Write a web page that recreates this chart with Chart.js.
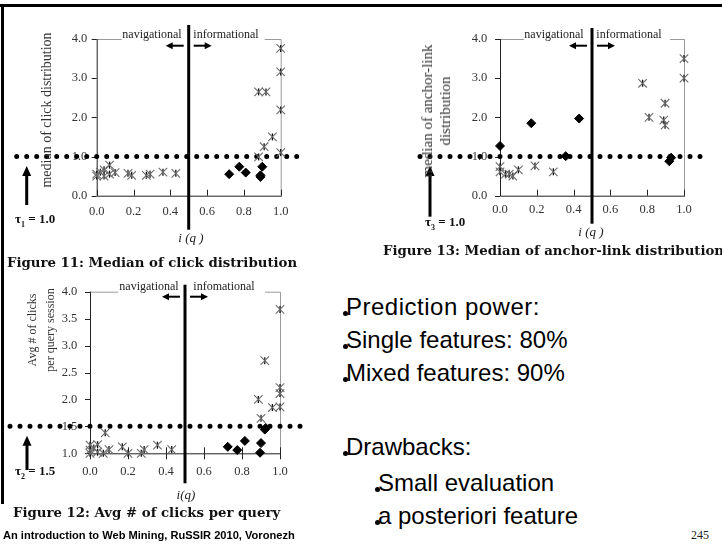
<!DOCTYPE html>
<html>
<head>
<meta charset="utf-8">
<script src="https://cdn.jsdelivr.net/npm/chart.js@4.4.1/dist/chart.umd.min.js"></script>
<style>
  body { margin:0; width:722px; height:547px; position:relative; overflow:hidden; background:#fff; font-family:"Liberation Serif", serif; }
  canvas { position:absolute; }
  .t { position:absolute; white-space:nowrap; transform:translate(-50%,-50%); color:#222; }
  .l { position:absolute; white-space:nowrap; transform:translateY(-50%); }
  .rot { transform:translate(-50%,-50%) rotate(-90deg); text-align:center; color:#333; }
  .lab { font-size:12px; color:#222; }
  .iq { font-style:italic; font-size:13px; }
  .tau { font-weight:bold; font-size:13px; color:#111; }
  .tau sub { font-size:8px; }
  .cap { font-family:"DejaVu Serif", serif; font-weight:bold; font-size:13.3px; color:#111; }
  .bul { position:absolute; font-family:"Liberation Sans", Arial, sans-serif; font-size:24px; line-height:24px; white-space:nowrap; color:#000; }
  .bul::before { content:""; position:absolute; left:-3.5px; top:16px; width:5px; height:5px; border-radius:50%; background:#000; }
</style>
</head>
<body>
<div style="position:absolute;left:0;top:4px;width:722px;height:3px;background:#000"></div>
<div style="position:absolute;left:1px;top:4px;width:3px;height:500px;background:#000"></div>

<canvas id="fig11" width="310" height="250" style="left:0;top:0"></canvas>
<canvas id="fig13" width="342" height="250" style="left:380px;top:0"></canvas>
<canvas id="fig12" width="310" height="260" style="left:0;top:250px"></canvas>

<!-- Figure 11 texts -->
<div class="t rot" style="left:47px;top:110px;font-size:14px">median of click distribution</div>
<div class="t lab" style="left:152px;top:34px">navigational</div>
<div class="t lab" style="left:226px;top:34px">informational</div>
<div class="t iq" style="left:191px;top:238px">i (q )</div>
<div class="l tau" style="left:15px;top:220px">τ<sub>1</sub> = 1.0</div>
<div class="l cap" style="left:7px;top:262px">Figure 11: Median of click distribution</div>

<!-- Figure 13 texts -->
<div class="t rot" style="left:436px;top:111px;font-size:15px;line-height:18px">median of anchor-link<br>distribution</div>
<div class="t lab" style="left:554px;top:34px">navigational</div>
<div class="t lab" style="left:629px;top:34px">informational</div>
<div class="t iq" style="left:591px;top:232px">i (q )</div>
<div class="l tau" style="left:425px;top:223px">τ<sub>3</sub> = 1.0</div>
<div class="l cap" style="left:383px;top:250px">Figure 13: Median of anchor-link distribution</div>

<!-- Figure 12 texts -->
<div class="t rot" style="left:41px;top:330px;font-size:12px;line-height:18px">Avg # of clicks<br>per query session</div>
<div class="t lab" style="left:149px;top:286px">navigational</div>
<div class="t lab" style="left:224px;top:286px">infomational</div>
<div class="t iq" style="left:186px;top:495px">i(q)</div>
<div class="l tau" style="left:15px;top:472px">τ<sub>2</sub> = 1.5</div>
<div class="l cap" style="left:13px;top:512px">Figure 12: Avg # of clicks per query</div>

<!-- slide text -->
<div class="bul" style="left:346px;top:295px;letter-spacing:0.5px">Prediction power:</div>
<div class="bul" style="left:346px;top:328px">Single features: 80%</div>
<div class="bul" style="left:346px;top:361px">Mixed features: 90%</div>
<div class="bul" style="left:346px;top:435px">Drawbacks:</div>
<div class="bul" style="left:378px;top:471px">Small evaluation</div>
<div class="bul" style="left:378px;top:504px">a posteriori feature</div>
<div class="l" style="left:3px;top:535px;font-family:'Liberation Sans',Arial,sans-serif;font-weight:bold;font-size:11.1px">An introduction to Web Mining, RuSSIR 2010, Voronezh</div>
<div class="t" style="left:700px;top:535px;font-size:12px">245</div>

<script>
// tick labels
const xTicks = [0, 0.2, 0.4, 0.6, 0.8, 1.0];
const yTicksMedian = [0, 1, 2, 3, 4];
const yTicksAvg = [1, 1.5, 2, 2.5, 3, 3.5, 4];
const splitAt = 0.5;

// Figure 11: median of click distribution
const fig11StarX = [0.00, 0.00, 0.02, 0.04, 0.04, 0.07, 0.07, 0.10, 0.17, 0.19, 0.27, 0.29, 0.36, 0.43, 0.88, 0.91, 0.955, 0.88, 0.92, 1.00, 1.00, 1.00, 1.00];
const fig11StarY = [0.55, 0.50, 0.60, 0.66, 0.50, 0.78, 0.55, 0.59, 0.57, 0.52, 0.52, 0.55, 0.60, 0.57, 0.99, 1.25, 1.50, 2.65, 2.65, 1.10, 2.19, 3.16, 3.76];
const fig11DiaX = [0.72, 0.775, 0.81, 0.90, 0.89, 0.89];
const fig11DiaY = [0.55, 0.74, 0.59, 0.74, 0.52, 0.48];
const tau1 = 1.0;

// Figure 13: median of anchor-link distribution
const fig13StarX = [0.00, 0.00, 0.03, 0.05, 0.07, 0.10, 0.19, 0.29, 0.775, 0.81, 0.89, 0.897, 0.897, 1.00, 1.00];
const fig13StarY = [0.74, 0.61, 0.55, 0.55, 0.50, 0.66, 0.76, 0.61, 2.87, 2.00, 1.93, 1.80, 2.36, 3.00, 3.50];
const fig13DiaX = [0.00, 0.17, 0.357, 0.43, 0.92, 0.93];
const fig13DiaY = [1.27, 1.85, 1.01, 1.97, 0.88, 0.97];
const tau3 = 1.0;

// Figure 12: avg # of clicks per query
const fig12StarX = [0.00, 0.00, 0.00, 0.02, 0.04, 0.04, 0.07, 0.08, 0.10, 0.17, 0.20, 0.27, 0.285, 0.355, 0.43, 0.886, 0.90, 0.92, 0.96, 1.00, 1.00, 1.00, 1.00];
const fig12StarY = [1.15, 1.06, 1.00, 1.10, 1.16, 1.02, 1.00, 1.38, 1.07, 1.12, 1.00, 1.00, 1.07, 1.15, 1.07, 2.00, 1.65, 2.72, 1.85, 1.86, 2.11, 2.22, 3.67];
const fig12DiaX = [0.725, 0.775, 0.815, 0.90, 0.895, 0.925, 0.92];
const fig12DiaY = [1.12, 1.06, 1.23, 1.19, 1.01, 1.47, 1.44];
const tau2 = 1.5;

const pts = (xs, ys) => xs.map((x, i) => ({x: x, y: ys[i]}));

// axes, frame, split line, threshold dots and arrows
const decor = {
  id: 'decor',
  beforeDatasetsDraw(chart, args, o) {
    const ctx = chart.ctx, a = chart.chartArea, x = chart.scales.x, y = chart.scales.y;
    ctx.save();
    // grey frame (top + right)
    ctx.strokeStyle = '#9a9a9a'; ctx.lineWidth = 1;
    ctx.beginPath();
    ctx.moveTo(a.left, a.top + 0.5); ctx.lineTo(a.left + o.gapL, a.top + 0.5);
    ctx.moveTo(a.right - o.gapR, a.top + 0.5); ctx.lineTo(a.right + 0.5, a.top + 0.5); ctx.lineTo(a.right + 0.5, a.bottom);
    ctx.stroke();
    // axes + ticks
    ctx.strokeStyle = '#222';
    ctx.beginPath();
    ctx.moveTo(a.left + 0.5, a.top); ctx.lineTo(a.left + 0.5, a.bottom + 0.5); ctx.lineTo(a.right + 1, a.bottom + 0.5);
    y.ticks.forEach(t => { const py = Math.round(y.getPixelForValue(t.value)) + 0.5; ctx.moveTo(a.left - 5, py); ctx.lineTo(a.left, py); });
    x.ticks.forEach(t => { const px = Math.round(x.getPixelForValue(t.value)) + 0.5; ctx.moveTo(px, a.bottom - 6); ctx.lineTo(px, a.bottom + o.tickBelow); });
    ctx.stroke();
    // threshold dots
    const ty = y.getPixelForValue(o.tau);
    ctx.save();
    ctx.strokeStyle = '#000'; ctx.lineWidth = 5; ctx.lineCap = 'round'; ctx.setLineDash([0, 10]);
    ctx.beginPath(); ctx.moveTo(a.left - 80, ty); ctx.lineTo(a.right + 24, ty); ctx.stroke();
    ctx.restore();
    // split line
    const sx = x.getPixelForValue(splitAt);
    ctx.fillStyle = '#000';
    ctx.fillRect(sx - 1.5, a.top - o.vTop, 3, a.bottom - a.top + o.vTop + o.vBot);
    // nav / info arrows
    const ay = a.top + o.arrowY;
    ctx.fillRect(sx - 17, ay - 1, 12, 2);
    ctx.fillRect(sx + 5, ay - 1, 12, 2);
    ctx.beginPath();
    ctx.moveTo(sx - 23, ay); ctx.lineTo(sx - 16, ay - 3.5); ctx.lineTo(sx - 16, ay + 3.5); ctx.closePath();
    ctx.moveTo(sx + 23, ay); ctx.lineTo(sx + 16, ay - 3.5); ctx.lineTo(sx + 16, ay + 3.5); ctx.closePath();
    ctx.fill();
    // threshold arrow
    const ux = a.left + o.upX, tip = ty + 9.5;
    ctx.fillRect(ux - 1.5, tip + 8, 3, a.bottom + o.upTail - tip - 8);
    ctx.beginPath();
    ctx.moveTo(ux, tip); ctx.lineTo(ux - 4.5, tip + 10); ctx.lineTo(ux + 4.5, tip + 10); ctx.closePath();
    ctx.fill();
    ctx.restore();
  }
};

// the axes take the left / bottom margins so their labels stay inside their clip box
function makeChart(id, c) {
  const tickFont = {family: 'Liberation Serif', size: 12.5};
  return new Chart(document.getElementById(id), {
    type: 'scatter',
    data: {
      datasets: [
        {data: pts(c.starX, c.starY), pointStyle: 'crossRot', pointRadius: 6, borderColor: '#6a6a6a', borderWidth: 1.1, backgroundColor: 'rgba(0,0,0,0)', clip: false},
        {data: pts(c.starX, c.starY), pointStyle: 'line', pointRotation: 90, pointRadius: 3.5, borderColor: '#111', borderWidth: 1.3, clip: false},
        {data: pts(c.diaX, c.diaY), pointStyle: 'rectRot', pointRadius: 4.5, backgroundColor: '#000', borderColor: '#000', borderWidth: 1, clip: false}
      ]
    },
    options: {
      responsive: false, animation: false, devicePixelRatio: 1, events: [],
      layout: {padding: {left: 0, bottom: 0, top: c.top, right: c.right}},
      plugins: {legend: {display: false}, tooltip: {enabled: false}, decor: c.decor},
      scales: {
        x: {
          type: 'linear', min: 0, max: 1,
          grid: {display: false, drawTicks: false}, border: {display: false},
          afterBuildTicks: s => { s.ticks = xTicks.map(v => ({value: v})); },
          afterFit: s => { s.height = c.bottom; },
          ticks: {padding: c.xPad, maxRotation: 0, autoSkip: false, color: '#333', font: tickFont, callback: v => v.toFixed(1)}
        },
        y: {
          type: 'linear', min: c.yTicks[0], max: c.yTicks[c.yTicks.length - 1],
          grid: {display: false, drawTicks: false}, border: {display: false},
          afterBuildTicks: s => { s.ticks = c.yTicks.map(v => ({value: v})); },
          afterFit: s => { s.width = c.left; },
          ticks: {padding: c.yPad, autoSkip: false, color: '#333', font: tickFont, callback: v => v.toFixed(1)}
        }
      }
    },
    plugins: [decor]
  });
}

makeChart('fig11', {
  starX: fig11StarX, starY: fig11StarY, diaX: fig11DiaX, diaY: fig11DiaY, yTicks: yTicksMedian,
  left: 96.7, right: 29.3, top: 39, bottom: 54.3, xPad: 9, yPad: 9.4,
  decor: {tau: tau1, gapL: 25, gapR: 16, vTop: 14, vBot: 34, arrowY: 6.7, upX: -70, upTail: 9.3, tickBelow: 0}
});
makeChart('fig13', {
  starX: fig13StarX, starY: fig13StarY, diaX: fig13DiaX, diaY: fig13DiaY, yTicks: yTicksMedian,
  left: 120, right: 38, top: 39, bottom: 54.3, xPad: 7, yPad: 12.7,
  decor: {tau: tau3, gapL: 24, gapR: 14, vTop: 11, vBot: 28, arrowY: 6.7, upX: -70, upTail: 21, tickBelow: 0}
});
makeChart('fig12', {
  starX: fig12StarX, starY: fig12StarY, diaX: fig12DiaX, diaY: fig12DiaY, yTicks: yTicksAvg,
  left: 90, right: 30, top: 41.7, bottom: 56.7, xPad: 11, yPad: 12.7,
  decor: {tau: tau2, gapL: 28, gapR: 15, vTop: 7, vBot: 30, arrowY: 5, upX: -63, upTail: 16.7, tickBelow: 6}
});
</script>
</body>
</html>
